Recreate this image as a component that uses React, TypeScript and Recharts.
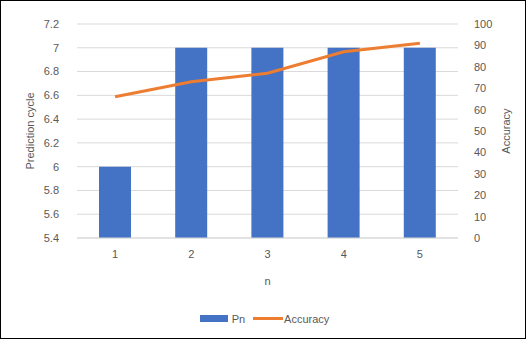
import { ComposedChart, Bar, Line, XAxis, YAxis, CartesianGrid, Legend } from 'recharts';

const categories = ['1', '2', '3', '4', '5'];
const pnValues = [6, 7, 7, 7, 7];
const accuracyValues = [66, 73, 77, 87, 91];
const leftTicks = [5.4, 5.6, 5.8, 6, 6.2, 6.4, 6.6, 6.8, 7, 7.2];
const rightTicks = [0, 10, 20, 30, 40, 50, 60, 70, 80, 90, 100];

const data = categories.map((n, i) => ({ n, Pn: pnValues[i], Accuracy: accuracyValues[i] }));

const FONT = '"Liberation Sans", Arial, sans-serif';
const TEXT = '#595959';

function LegendContent() {
  return (
    <div style={{ display: 'flex', justifyContent: 'center', alignItems: 'center', fontFamily: FONT, fontSize: 11, color: TEXT }}>
      <span style={{ display: 'inline-block', width: 28, height: 7, background: '#4472C4', marginRight: 4 }} />
      <span style={{ marginRight: 8 }}>Pn</span>
      <span style={{ display: 'inline-block', width: 30, height: 3, background: '#ED7D31', marginRight: 1 }} />
      <span>Accuracy</span>
    </div>
  );
}

export default function App() {
  return (
    <div style={{ position: 'absolute', left: 0, top: 0, width: 526, height: 339, boxSizing: 'border-box', border: '1.5px solid #000', background: '#fff', overflow: 'hidden' }}>
      <div style={{ position: 'absolute', left: -1.5, top: -1.5 }}>
        <ComposedChart width={526} height={339} data={data} margin={{ top: 24, right: 10, bottom: 2, left: 14 }} barSize={32}>
          <CartesianGrid vertical={false} stroke="#d9d9d9" yAxisId="left" />
          <XAxis
            dataKey="n"
            height={75}
            axisLine={{ stroke: '#d9d9d9' }}
            tickLine={false}
            tick={{ fill: TEXT, fontSize: 11, fontFamily: FONT }}
            tickMargin={6}
            label={{ value: 'n', position: 'insideTop', offset: 39, style: { fill: TEXT, fontSize: 11, fontFamily: FONT } }}
          />
          <YAxis
            yAxisId="left"
            domain={[5.4, 7.2]}
            ticks={leftTicks}
            width={63}
            axisLine={false}
            tickLine={false}
            tick={{ fill: TEXT, fontSize: 11, fontFamily: FONT }}
            tickMargin={12}
            label={{ value: 'Prediction cycle', angle: -90, position: 'insideLeft', offset: 16, style: { textAnchor: 'middle', fill: TEXT, fontSize: 11, fontFamily: FONT } }}
          />
          <YAxis
            yAxisId="right"
            orientation="right"
            domain={[0, 100]}
            ticks={rightTicks}
            width={58}
            axisLine={false}
            tickLine={false}
            tick={{ fill: TEXT, fontSize: 11, fontFamily: FONT, textAnchor: 'start' }}
            tickMargin={10}
            label={{ value: 'Accuracy', angle: -90, position: 'insideRight', offset: 10, style: { textAnchor: 'middle', fill: TEXT, fontSize: 11, fontFamily: FONT } }}
          />
          <Legend verticalAlign="bottom" height={24} content={<LegendContent />} />
          <Bar yAxisId="left" dataKey="Pn" fill="#4472C4" isAnimationActive={false} />
          <Line yAxisId="right" dataKey="Accuracy" type="linear" stroke="#ED7D31" strokeWidth={3} dot={false} isAnimationActive={false} />
        </ComposedChart>
      </div>
    </div>
  );
}
